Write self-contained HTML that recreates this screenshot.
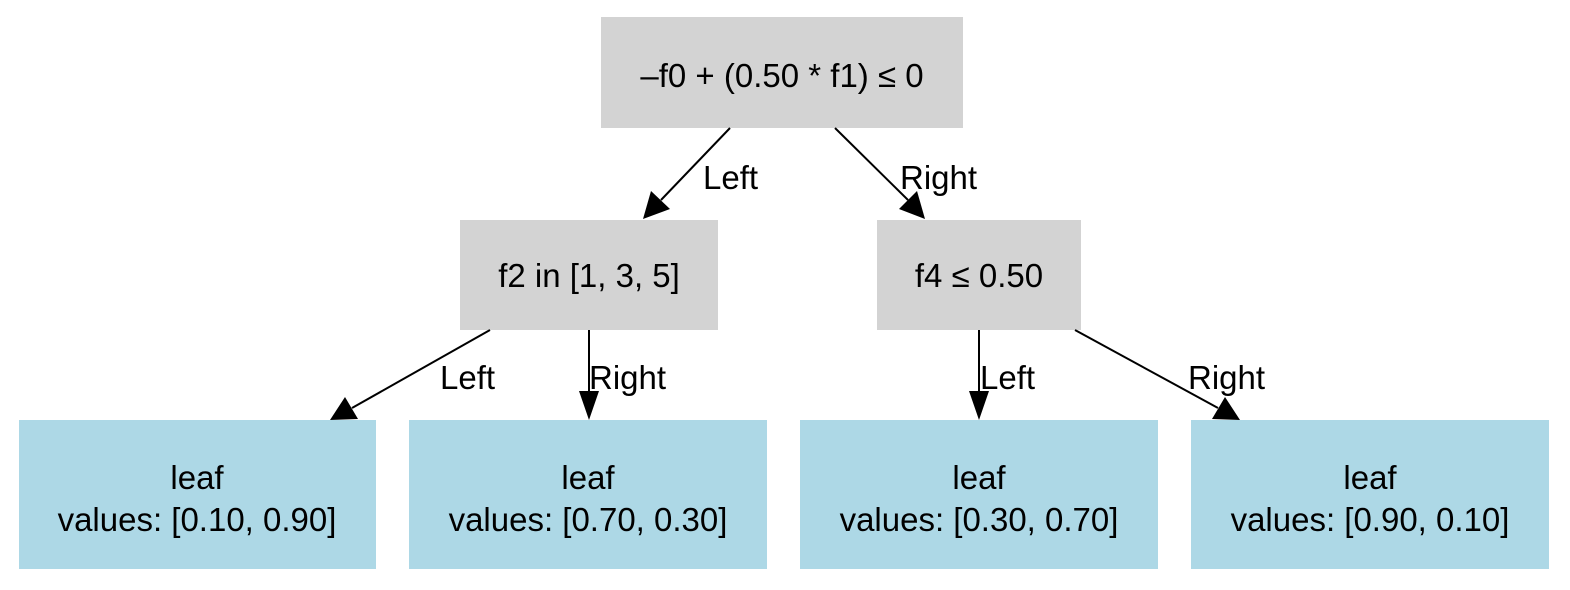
<!DOCTYPE html>
<html><head><meta charset="utf-8"><style>
html,body{margin:0;padding:0;background:#fff;}
svg{display:block;}
text{font-family:"Liberation Sans","DejaVu Sans",sans-serif;fill:#000;}
</style></head><body>
<svg width="1570" height="590" viewBox="0 0 1570 590" xmlns="http://www.w3.org/2000/svg">
<rect width="1570" height="590" fill="#fff"/>
<rect x="601" y="17" width="362" height="111" fill="#d3d3d3"/>
<rect x="460" y="220" width="258" height="110" fill="#d3d3d3"/>
<rect x="877" y="220" width="204" height="110" fill="#d3d3d3"/>
<rect x="19" y="420" width="357" height="149" fill="#add8e6"/>
<rect x="409" y="420" width="358" height="149" fill="#add8e6"/>
<rect x="800" y="420" width="358" height="149" fill="#add8e6"/>
<rect x="1191" y="420" width="358" height="149" fill="#add8e6"/>
<g stroke="#000" stroke-width="2" fill="none">
<line x1="730" y1="128" x2="661" y2="200"/>
<line x1="835" y1="128" x2="908" y2="200"/>
<line x1="490" y1="330" x2="352" y2="408"/>
<line x1="589" y1="330" x2="589" y2="395"/>
<line x1="979" y1="330" x2="979" y2="395"/>
<line x1="1075" y1="330" x2="1218" y2="408"/>
</g>
<g fill="#000">
<polygon points="643,219 651,191 670,209"/>
<polygon points="925,219 899,209 917,191"/>
<polygon points="330,420 345,397 358,419"/>
<polygon points="589,420 579,391 599,391"/>
<polygon points="979,420 969,391 989,391"/>
<polygon points="1240,420 1212,419 1225,397"/>
</g>
<g font-size="33" text-anchor="middle">
<text x="782" y="87">–f0 + (0.50 * f1) ≤ 0</text>
<text x="589" y="287">f2 in [1, 3, 5]</text>
<text x="979" y="287">f4 ≤ 0.50</text>
<text x="197" y="489">leaf</text>
<text x="197" y="531">values: [0.10, 0.90]</text>
<text x="588" y="489">leaf</text>
<text x="588" y="531">values: [0.70, 0.30]</text>
<text x="979" y="489">leaf</text>
<text x="979" y="531">values: [0.30, 0.70]</text>
<text x="1370" y="489">leaf</text>
<text x="1370" y="531">values: [0.90, 0.10]</text>
</g>
<g font-size="33">
<text x="703" y="189">Left</text>
<text x="900" y="189">Right</text>
<text x="440" y="389">Left</text>
<text x="589" y="389">Right</text>
<text x="980" y="389">Left</text>
<text x="1188" y="389">Right</text>
</g>
</svg>
</body></html>
